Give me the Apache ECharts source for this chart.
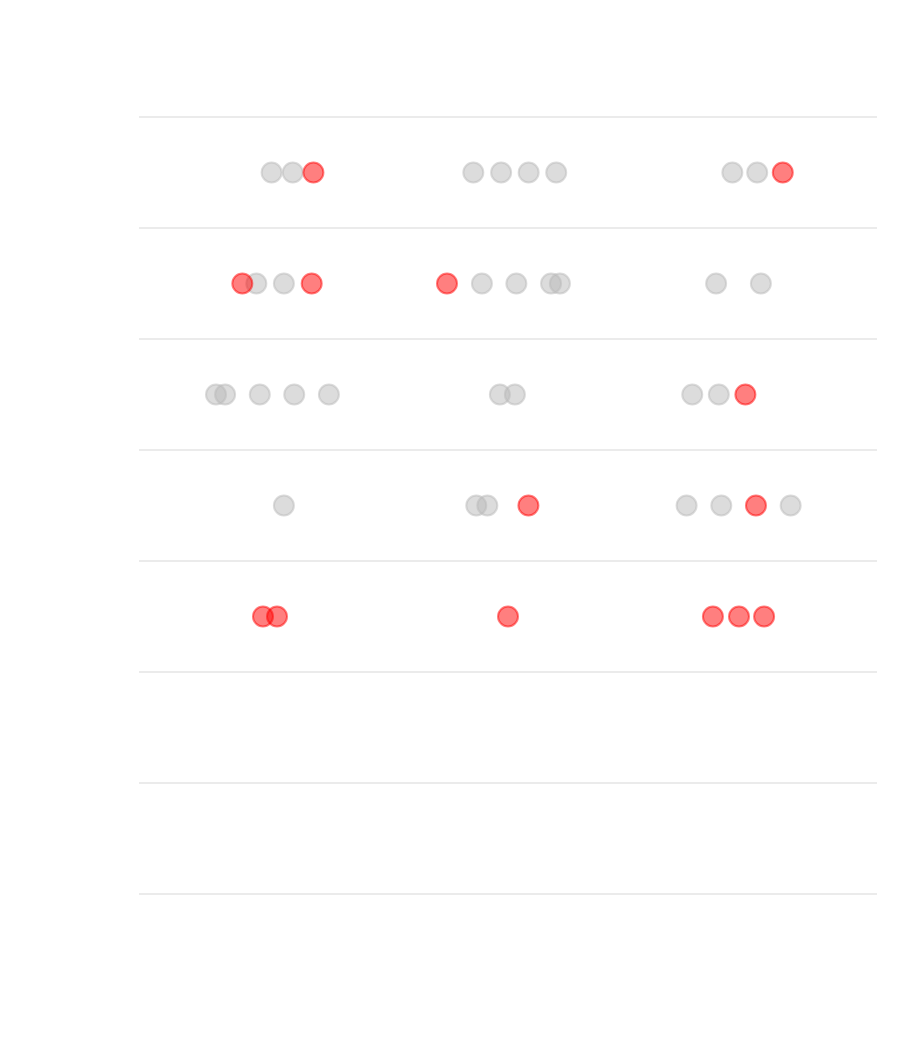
<!DOCTYPE html>
<html>
<head>
<meta charset="utf-8">
<script src="https://cdn.jsdelivr.net/npm/echarts@6/dist/echarts.min.js"></script>
<style>html,body{margin:0;padding:0;background:#fff}#main{width:900px;height:1050px}</style>
</head>
<body>
<div id="main"></div>
<script>
// Row categories (top to bottom)
var rows = ['R1', 'R2', 'R3', 'R4', 'R5', 'R6', 'R7'];
// Gray points: x values per row
var grayX = [
  [0.539, 0.625, 1.359, 1.472, 1.584, 1.696, 2.412, 2.513],
  [0.477, 0.589, 1.394, 1.534, 1.675, 1.711, 2.346, 2.528],
  [0.313, 0.350, 0.491, 0.631, 0.772, 1.467, 1.528, 2.249, 2.357],
  [0.589, 1.371, 1.416, 2.226, 2.367, 2.649],
  [],
  [],
  []
];
// Red (highlighted) points: x values per row
var redX = [
  [0.709, 2.617],
  [0.420, 0.702, 1.252],
  [2.465],
  [1.583, 2.508],
  [0.504, 0.561, 1.500, 2.333, 2.439, 2.541],
  [],
  []
];

function toPoints(arr) {
  var out = [];
  arr.forEach(function (xs, r) {
    xs.forEach(function (x) { out.push([x, rows[r]]); });
  });
  return out;
}

var chart = echarts.init(document.getElementById('main'));
chart.setOption({
  animation: false,
  grid: { left: 139, right: 23, top: 117, bottom: 156 },
  xAxis: {
    type: 'value', min: 0, max: 3,
    axisLine: { show: false }, axisTick: { show: false },
    axisLabel: { show: false }, splitLine: { show: false }
  },
  yAxis: {
    type: 'category', data: rows, inverse: true,
    axisLine: { show: false }, axisTick: { show: false },
    axisLabel: { show: false },
    splitLine: { show: true, lineStyle: { color: '#ebebeb', width: 2 } }
  },
  series: [
    {
      type: 'scatter', symbolSize: 20,
      itemStyle: { color: '#b9b9b9', borderColor: '#b9b9b9', borderWidth: 2, opacity: 0.5 },
      data: toPoints(grayX)
    },
    {
      type: 'scatter', symbolSize: 20,
      itemStyle: { color: 'red', borderColor: 'red', borderWidth: 2, opacity: 0.5 },
      data: toPoints(redX)
    }
  ]
});
</script>
</body>
</html>
